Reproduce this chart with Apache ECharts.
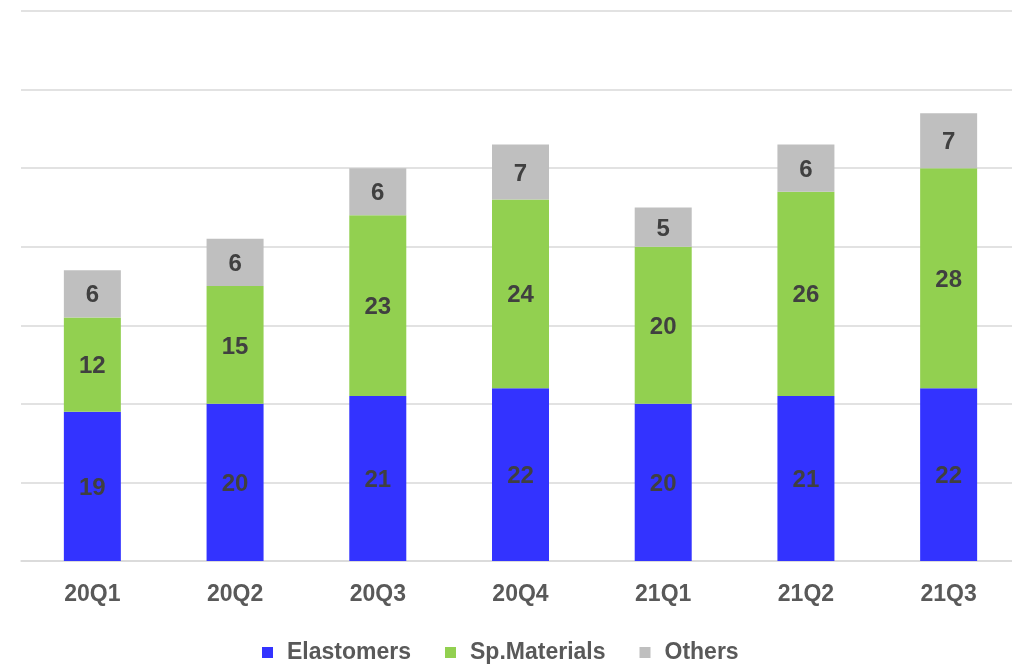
<!DOCTYPE html>
<html>
<head>
<meta charset="utf-8">
<script src="https://cdn.jsdelivr.net/npm/echarts@6/dist/echarts.min.js"></script>
<style>
  html, body { margin: 0; padding: 0; background: #ffffff; }
  #chart { width: 1012px; height: 664px; }
</style>
</head>
<body>
<div id="chart"></div>
<script>
// Quarterly revenue by segment
const quarters = ['20Q1', '20Q2', '20Q3', '20Q4', '21Q1', '21Q2', '21Q3'];
const elastomers = [19, 20, 21, 22, 20, 21, 22];
const spMaterials = [12, 15, 23, 24, 20, 26, 28];
const others = [6, 6, 6, 7, 5, 6, 7];

const FONT = '"Liberation Sans", Arial, sans-serif';

const chart = echarts.init(document.getElementById('chart'), null, { renderer: 'canvas' });

function segment(name, data, color) {
  return {
    name: name,
    type: 'bar',
    stack: 'total',
    data: data,
    barWidth: 57,
    itemStyle: { color: color },
    label: {
      show: true,
      position: 'inside',
      offset: [0, 2],
      color: '#404040',
      fontFamily: FONT,
      fontWeight: 'bold',
      fontSize: 24
    },
    emphasis: { disabled: true }
  };
}

chart.setOption({
  animation: false,
  backgroundColor: '#ffffff',
  grid: { left: 21, right: -8, top: 11, bottom: 103, outerBoundsMode: 'none' },
  legend: {
    left: 257,
    top: 636,
    itemWidth: 11,
    itemHeight: 11,
    itemGap: 34,
    icon: 'rect',
    textStyle: { color: '#595959', fontFamily: FONT, fontWeight: 'bold', fontSize: 23, padding: [0, 0, 0, 9] },
    data: ['Elastomers', 'Sp.Materials', 'Others']
  },
  xAxis: {
    type: 'category',
    data: quarters,
    axisLine: { show: true, lineStyle: { color: '#d9d9d9', width: 1.5 } },
    axisTick: { show: false },
    axisLabel: { color: '#595959', fontFamily: FONT, fontWeight: 'bold', fontSize: 23, margin: 22 }
  },
  yAxis: {
    type: 'value',
    min: 0,
    max: 70,
    interval: 10,
    axisLine: { show: false },
    axisTick: { show: false },
    axisLabel: { show: false },
    splitLine: { lineStyle: { color: '#d9d9d9', width: 1.5 } }
  },
  series: [
    segment('Elastomers', elastomers, '#3333ff'),
    segment('Sp.Materials', spMaterials, '#92d050'),
    segment('Others', others, '#bfbfbf')
  ]
});
</script>
</body>
</html>
